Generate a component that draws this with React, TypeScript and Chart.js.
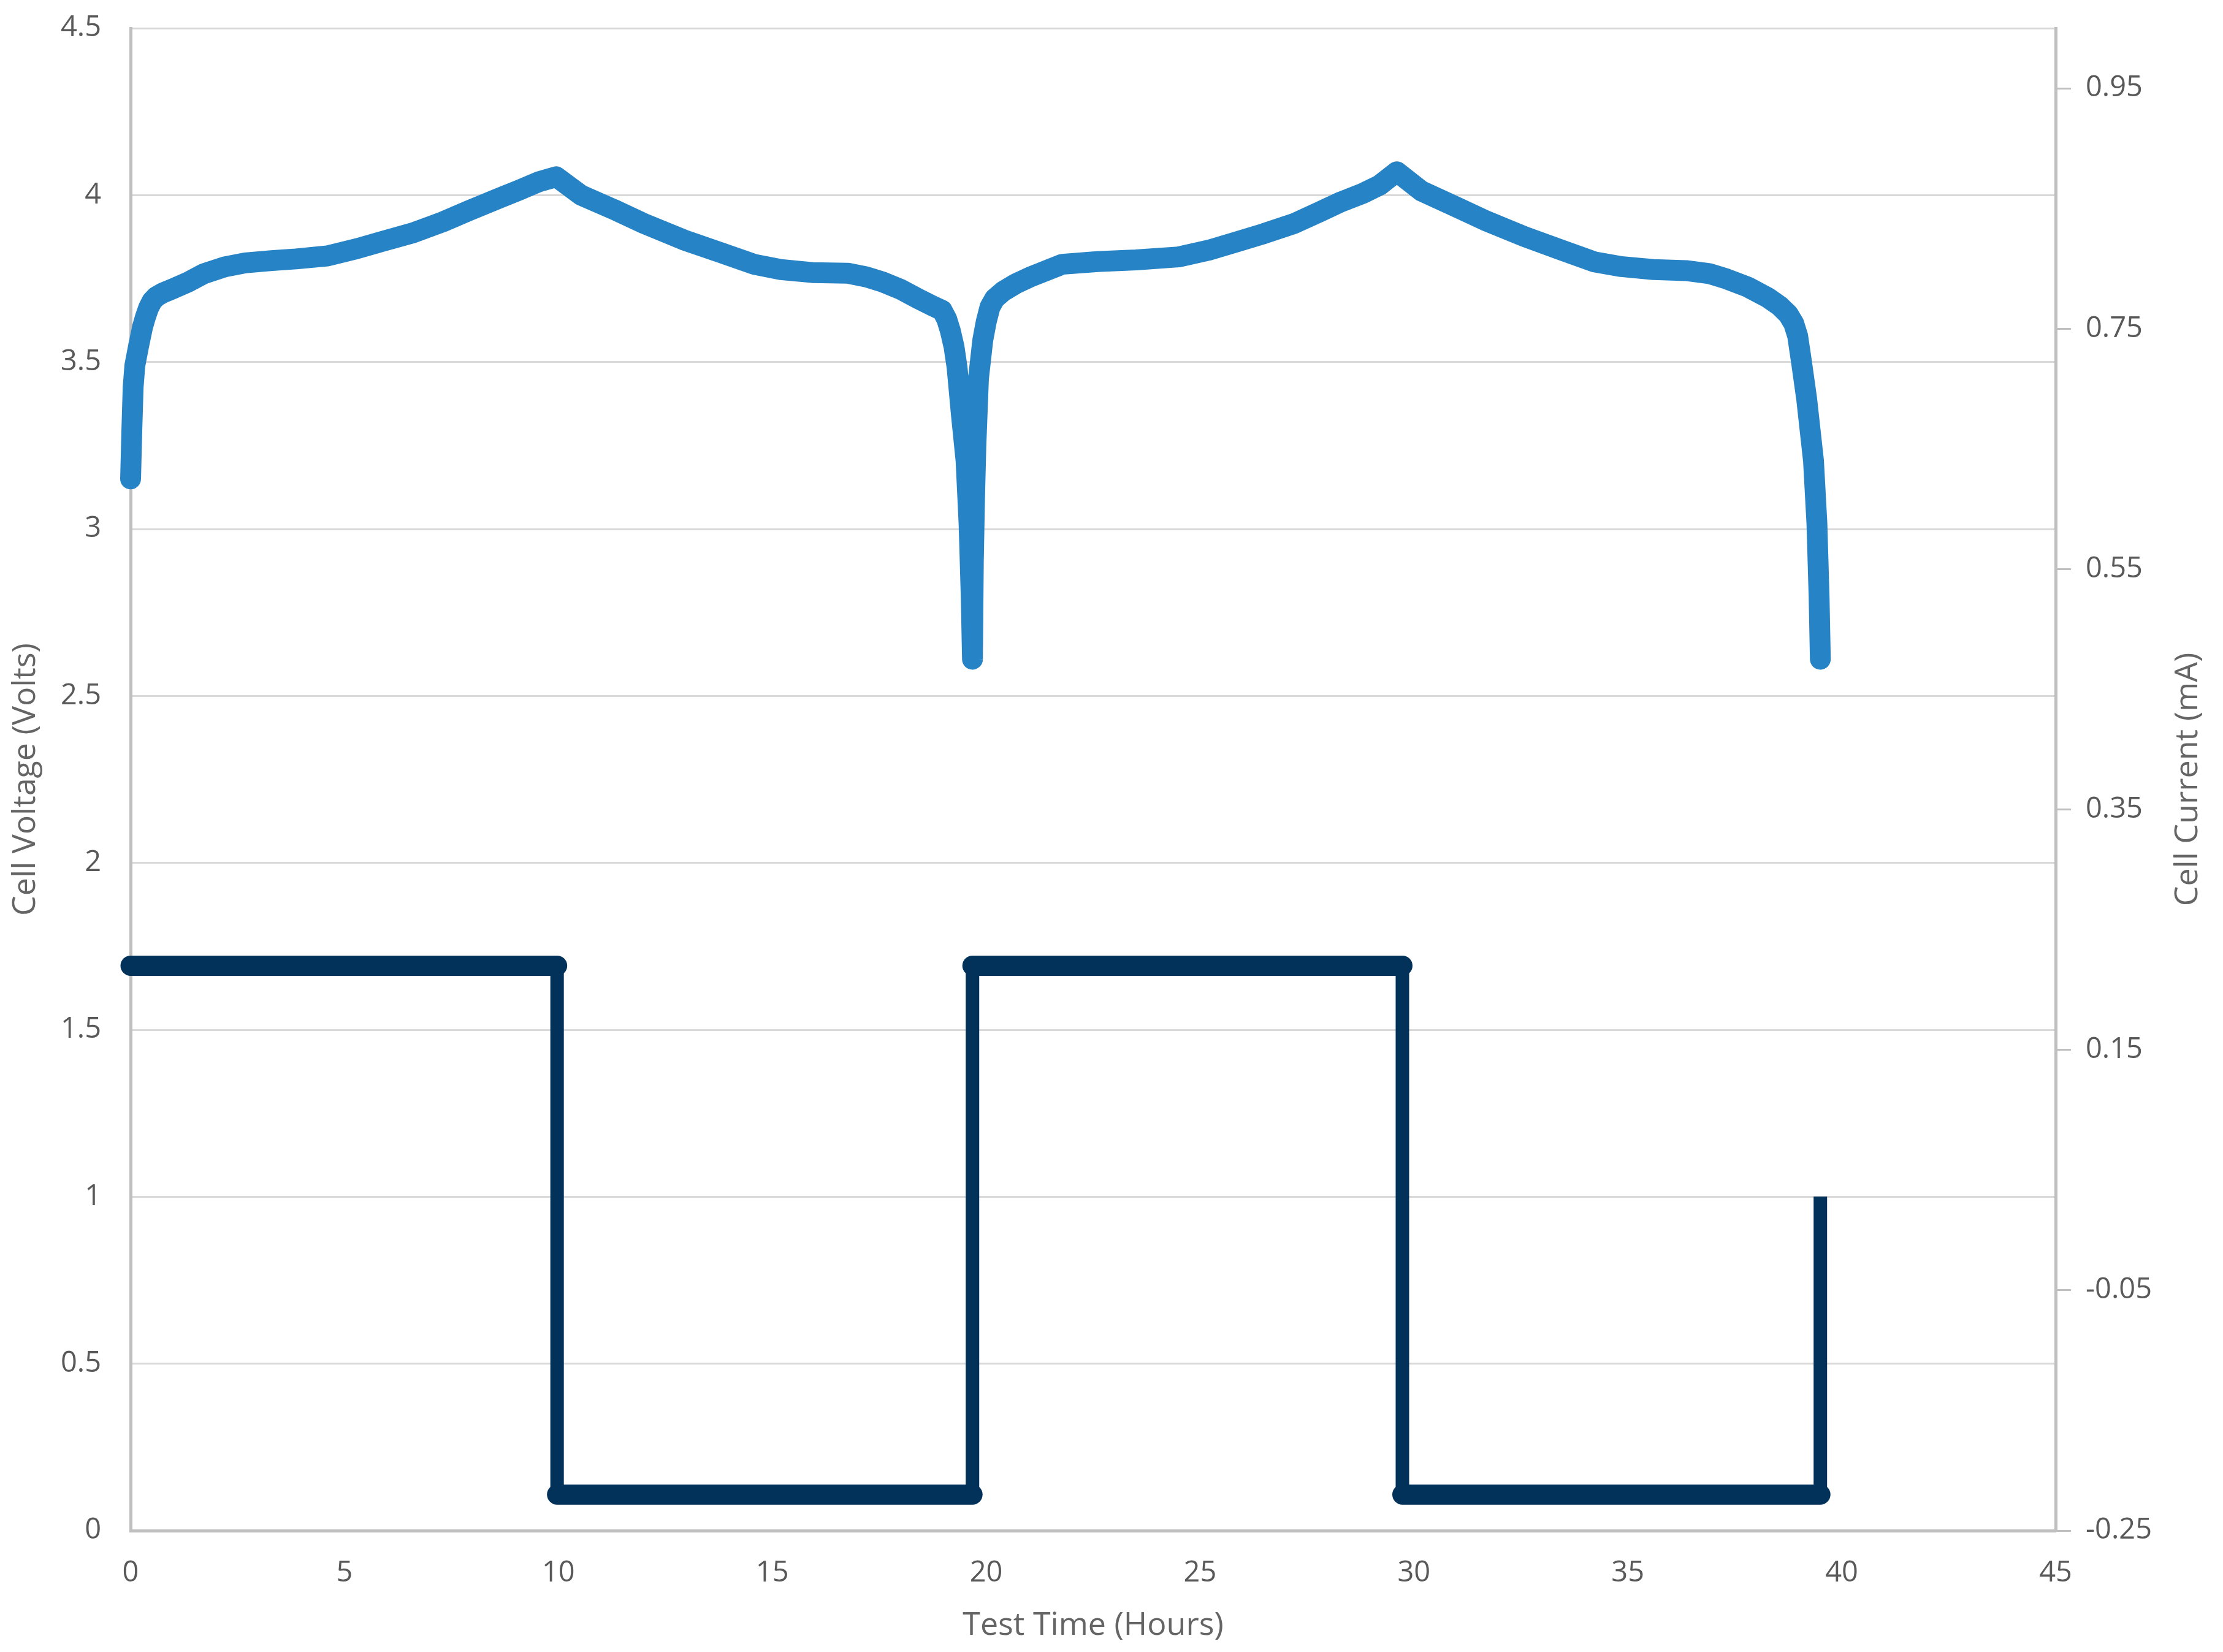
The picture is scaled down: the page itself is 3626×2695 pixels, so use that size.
import React, { useEffect, useRef } from 'react';
import { Chart, registerables } from 'chart.js';

Chart.register(...registerables);

// Test time (hours) for the voltage trace
const TIME_V = [
  0, 0.03, 0.06, 0.1, 0.19, 0.28, 0.35, 0.42, 0.5, 0.6, 0.75, 1.0, 1.35, 1.72, 2.2, 2.68, 3.3, 3.87, 4.6, 5.3, 5.9, 6.6, 7.3, 7.9, 8.6, 9.08, 9.54, 9.95,
  10.53, 11.28, 12.0, 12.93, 13.79, 14.57, 15.2, 15.94, 16.77, 17.2, 17.58, 18.0, 18.41, 18.75, 18.97, 19.08, 19.16, 19.25, 19.32, 19.42, 19.53, 19.6, 19.65, 19.68,
  19.7, 19.73, 19.76, 19.82, 19.92, 20.0, 20.09, 20.2, 20.4, 20.7, 21.07, 21.78, 22.6, 23.5, 24.5, 25.2, 25.8, 26.5, 27.2, 27.8, 28.3, 28.8, 29.2, 29.6,
  30.18, 30.93, 31.65, 32.58, 33.44, 34.22, 34.85, 35.6, 36.36, 36.9, 37.31, 37.8, 38.27, 38.55, 38.75, 38.88, 38.97, 39.06, 39.18, 39.34, 39.42, 39.47, 39.5,
];
// Cell voltage (V)
const VOLTAGE = [
  3.15, 3.3, 3.425, 3.49, 3.55, 3.605, 3.636, 3.662, 3.682, 3.696, 3.707, 3.72, 3.74, 3.765, 3.785, 3.797, 3.804, 3.809, 3.818, 3.84, 3.862, 3.887, 3.92, 3.953, 3.99, 4.015, 4.04, 4.055,
  4.0, 3.958, 3.915, 3.866, 3.828, 3.793, 3.777, 3.768, 3.766, 3.755, 3.74, 3.718, 3.69, 3.668, 3.655, 3.628, 3.595, 3.545, 3.484, 3.344, 3.204, 3.016, 2.8, 2.61,
  2.9, 3.1, 3.25, 3.45, 3.565, 3.62, 3.665, 3.69, 3.712, 3.735, 3.757, 3.793, 3.801, 3.806, 3.815, 3.835, 3.858, 3.885, 3.915, 3.95, 3.98, 4.005, 4.03, 4.07,
  4.012, 3.968, 3.925, 3.876, 3.836, 3.8, 3.786, 3.777, 3.774, 3.765, 3.749, 3.725, 3.693, 3.668, 3.643, 3.615, 3.578, 3.5, 3.39, 3.204, 3.016, 2.8, 2.61,
];

// Test time (hours) for the current trace
const TIME_I = [0, 9.97, 9.97, 19.68, 19.68, 29.73, 29.73, 39.5, 39.5];
// Cell current (mA)
const CURRENT = [0.22, 0.22, -0.22, -0.22, 0.22, 0.22, -0.22, -0.22, 0.028];

const X_MIN = 0;
const X_MAX = 45;
const X_STEP = 5;
const Y_MIN = 0;
const Y_MAX = 4.5;
const Y_STEP = 0.5;
const Y1_MIN = -0.25;
const Y1_MAX = 1.0;
const RIGHT_TICKS = [-0.25, -0.05, 0.15, 0.35, 0.55, 0.75, 0.95];

const X_TITLE = 'Test Time (Hours)';
const Y_TITLE = 'Cell Voltage (Volts)';
const Y1_TITLE = 'Cell Current (mA)';

const VOLT_COLOR = '#2683C6';
const CURR_COLOR = '#02315A';
const TICK_COLOR = '#595959';
const TITLE_COLOR = '#656565';
const GRID_COLOR = '#D9D9D9';
const AXIS_COLOR = '#BFBFBF';
const FONT = '"Open Sans", "Noto Sans", sans-serif';

export default function App() {
  const ref = useRef<HTMLCanvasElement>(null);

  useEffect(() => {
    if (!ref.current) return;
    const W = 3626;
    const H = 2695;
    const PLOT_LEFT = 213;
    const PLOT_RIGHT = 3353;
    const PLOT_TOP = 46;
    const PLOT_BOTTOM = 2497;

    const rightTitle = {
      id: 'rightTitle',
      afterDraw(chart: any) {
        const s = chart.scales.y1;
        const ctx = chart.ctx;
        ctx.save();
        ctx.translate(s.right - 57, (chart.chartArea.top + chart.chartArea.bottom) / 2);
        ctx.rotate(-Math.PI / 2);
        ctx.font = `52px ${FONT}`;
        ctx.fillStyle = TITLE_COLOR;
        ctx.textAlign = 'center';
        ctx.textBaseline = 'middle';
        ctx.fillText(Y1_TITLE, 0, 0);
        ctx.restore();
      },
    };

    const isVertical = (c: any) => c.p0.parsed.x === c.p1.parsed.x;

    const chart = new Chart(ref.current, {
      type: 'line',
      data: {
        datasets: [
          {
            label: 'Voltage',
            data: TIME_V.map((x, i) => ({ x, y: VOLTAGE[i] })),
            borderColor: VOLT_COLOR,
            backgroundColor: VOLT_COLOR,
            borderWidth: 34,
            borderCapStyle: 'round',
            borderJoinStyle: 'round',
            pointRadius: 0,
            tension: 0,
            yAxisID: 'y',
            clip: false as any,
          },
          {
            label: 'Current',
            data: TIME_I.map((x, i) => ({ x, y: CURRENT[i] })),
            borderColor: CURR_COLOR,
            backgroundColor: CURR_COLOR,
            borderWidth: 33,
            borderCapStyle: 'round',
            borderJoinStyle: 'miter',
            pointRadius: 0,
            tension: 0,
            yAxisID: 'y1',
            clip: false as any,
            segment: {
              borderWidth: (c: any) => (isVertical(c) ? 22 : 33),
              borderCapStyle: (c: any) => (isVertical(c) ? 'butt' : 'round'),
            },
          } as any,
        ],
      },
      options: {
        responsive: false,
        animation: false,
        events: [],
        layout: { padding: { top: PLOT_TOP, left: 0, right: 0, bottom: 0 } },
        plugins: {
          legend: { display: false },
          tooltip: { enabled: false },
        },
        scales: {
          x: {
            type: 'linear',
            position: 'bottom',
            min: X_MIN,
            max: X_MAX,
            ticks: {
              stepSize: X_STEP,
              color: TICK_COLOR,
              font: { family: FONT, size: 47 },
              padding: 41,
              maxRotation: 0,
              callback: (v: any) => String(v),
            },
            grid: { display: false, drawTicks: false },
            border: { display: true, color: AXIS_COLOR, width: 5 },
            title: {
              display: true,
              text: X_TITLE,
              color: TITLE_COLOR,
              font: { family: FONT, size: 52 },
              padding: { top: 0, bottom: 12 },
            },
            afterFit: (s: any) => {
              s.height = H - PLOT_BOTTOM;
              s.paddingLeft = 0;
              s.paddingRight = 0;
            },
          },
          y: {
            type: 'linear',
            position: 'left',
            min: Y_MIN,
            max: Y_MAX,
            ticks: {
              stepSize: Y_STEP,
              color: TICK_COLOR,
              font: { family: FONT, size: 47 },
              padding: 48,
              callback: (v: any) => String(v),
            },
            grid: { color: GRID_COLOR, lineWidth: 3, drawTicks: false },
            border: { display: true, color: AXIS_COLOR, width: 5 },
            title: {
              display: true,
              text: Y_TITLE,
              color: TITLE_COLOR,
              font: { family: FONT, size: 52 },
              padding: { top: 11, bottom: 0 },
            },
            afterFit: (s: any) => {
              s.width = PLOT_LEFT;
              s.paddingTop = 0;
              s.paddingBottom = 0;
            },
          },
          y1: {
            type: 'linear',
            position: 'right',
            min: Y1_MIN,
            max: Y1_MAX,
            afterBuildTicks: (s: any) => {
              s.ticks = RIGHT_TICKS.map((value) => ({ value }));
            },
            ticks: {
              color: TICK_COLOR,
              font: { family: FONT, size: 47 },
              padding: 24,
              callback: (v: any) => Number(v).toFixed(2),
            },
            grid: {
              drawOnChartArea: false,
              drawTicks: true,
              tickLength: 25,
              color: AXIS_COLOR,
              lineWidth: 3,
            },
            border: { display: true, color: AXIS_COLOR, width: 5 },
            afterFit: (s: any) => {
              s.width = W - PLOT_RIGHT;
              s.paddingTop = 0;
              s.paddingBottom = 0;
            },
          },
        },
      } as any,
      plugins: [rightTitle],
    });

    return () => chart.destroy();
  }, []);

  return (
    <div style={{ position: 'absolute', left: 0, top: 0, width: 3626, height: 2695, background: '#ffffff' }}>
      <canvas ref={ref} width={3626} height={2695} style={{ display: 'block', width: 3626, height: 2695 }} />
    </div>
  );
}
